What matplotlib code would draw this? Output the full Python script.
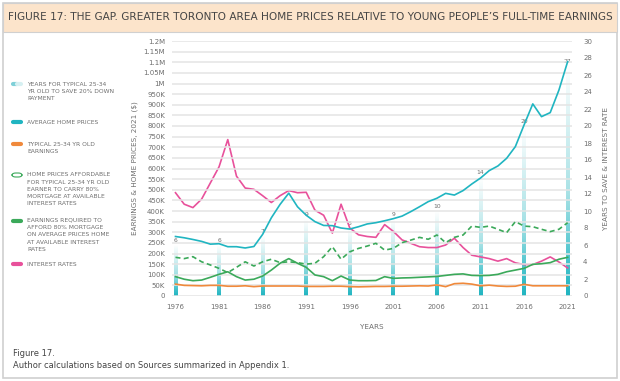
import numpy as np
import matplotlib
matplotlib.use("Agg")
import matplotlib.pyplot as plt
from matplotlib.colors import LinearSegmentedColormap
from matplotlib.lines import Line2D
from matplotlib.patches import FancyBboxPatch, Rectangle

years = list(range(1976, 2022))

# average home prices, $K (2021 dollars)
avg_price_k = [280, 274, 266, 257, 244, 246, 232, 232, 226, 233,
               290, 368, 431, 484, 420, 380, 350, 332, 331, 320,
               315, 326, 339, 345, 354, 364, 376, 397, 420, 444,
               460, 483, 475, 496, 527, 555, 590, 612, 648, 703,
               805, 904, 844, 863, 969, 1103]
# typical 25-34 full-time earnings, $K
earnings_k = [56, 50, 49, 48, 50, 50, 46, 46, 48, 44,
              47, 47, 47, 47, 47, 45, 45, 45, 46, 46,
              44, 43, 44, 45, 45, 46, 46, 47, 48, 47,
              52, 44, 58, 60, 56, 48, 51, 47, 45, 46,
              55, 48, 48, 48, 48, 48]
# home prices affordable for a typical earner, $K
affordable_k = [182, 176, 185, 161, 146, 130, 110, 135, 161, 141,
                161, 173, 157, 161, 157, 150, 154, 185, 232, 173,
                208, 224, 235, 248, 216, 224, 251, 263, 276, 267,
                287, 251, 276, 287, 329, 323, 329, 314, 298, 350,
                329, 326, 314, 303, 314, 345]
# earnings required for 80% mortgage on average home, $K
required_k = [91, 79, 72, 75, 88, 102, 114, 91, 75, 79,
              94, 122, 154, 176, 154, 135, 99, 91, 72, 94,
              75, 72, 72, 73, 91, 83, 85, 86, 88, 90,
              92, 97, 102, 104, 97, 96, 97, 102, 114, 122,
              130, 149, 152, 157, 173, 182]
# interest rates, %
interest = [12.15, 10.8, 10.4, 11.4, 13.3, 15.2, 18.4, 14.1, 12.7, 12.55,
            11.8, 11.0, 11.8, 12.4, 12.15, 12.2, 10.1, 9.5, 7.4, 10.8,
            8.0, 7.2, 7.0, 6.9, 8.4, 7.6, 6.6, 6.2, 5.8, 5.7,
            5.7, 6.0, 6.8, 5.7, 4.8, 4.6, 4.4, 4.1, 4.4, 3.9,
            3.7, 3.7, 4.1, 4.6, 4.0, 3.3]
# years to save 20% down payment
save_years = [1976, 1981, 1986, 1991, 1996, 2001, 2006, 2011, 2016, 2021]
save_values = [6, 6, 7, 9, 8, 9, 10, 14, 20, 27]

left_ticks = list(range(0, 1200001, 50000))
left_labels = ["0"] + [f"{v // 1000}K" for v in left_ticks[1:20]] + ["1M", "1.05M", "1.1M", "1.15M", "1.2M"]
right_ticks = list(range(0, 31, 2))

TEAL = "#20B5C1"
ORANGE = "#F0893B"
GREEN = "#3BA95A"
PINK = "#E8519B"
GRAY = "#6E6E6E"

fig = plt.figure(figsize=(6.2, 3.81), dpi=100)
fig.patch.set_facecolor("white")

# frame and title band
fig.add_artist(Rectangle((0.005, 0.008), 0.99, 0.984, transform=fig.transFigure,
                         fill=False, edgecolor="#D0D0D0", linewidth=1.2))
fig.add_artist(Rectangle((0.005, 0.917), 0.99, 0.075, transform=fig.transFigure,
                         facecolor="#FCE4CB", edgecolor="#D0D0D0", linewidth=0.8))
fig.text(0.5, 0.955, "FIGURE 17: THE GAP. GREATER TORONTO AREA HOME PRICES RELATIVE TO YOUNG PEOPLE\u2019S FULL-TIME EARNINGS",
         ha="center", va="center", fontsize=7.55, color="#454545")

ax = fig.add_axes([172 / 620, 1 - 296 / 381, 400 / 620, 255 / 381])
ax2 = ax.twinx()
ax.set_zorder(ax2.get_zorder() + 1)
ax.patch.set_visible(False)

ax.set_xlim(1975.6, 2021.5)
ax.set_ylim(0, 1200000)
ax2.set_ylim(0, 30)

# gradient bars for years to save
cmap = LinearSegmentedColormap.from_list("fade", [(0, TEAL), (0.12, "#3FC0CA"), (0.45, "#A9E2E6"), (1, "#FFFFFF")])
grad = np.linspace(0, 1, 256).reshape(-1, 1)
bw = 0.44
for yr, v in zip(save_years, save_values):
    ax2.imshow(grad, extent=[yr - bw / 2, yr + bw / 2, 0, v], origin="lower",
               aspect="auto", cmap=cmap, zorder=1)
    ax2.text(yr, v + 0.25, str(v), ha="center", va="bottom", fontsize=4.3, color=GRAY, zorder=2)
ax2.set_xlim(1975.6, 2021.5)
ax2.set_ylim(0, 30)

ax2.plot(years, interest, color=PINK, linewidth=1.2, zorder=3)

k = 1000
ax.plot(years, [v * k for v in avg_price_k], color=TEAL, linewidth=1.2)
ax.plot(years, [v * k for v in earnings_k], color=ORANGE, linewidth=1.2)
ax.plot(years, [v * k for v in affordable_k], color=GREEN, linewidth=1.2, linestyle=(0, (3, 2)))
ax.plot(years, [v * k for v in required_k], color=GREEN, linewidth=1.2)

for a in (ax, ax2):
    for s in a.spines.values():
        s.set_visible(False)
    a.tick_params(length=0, labelsize=5, labelcolor=GRAY)

ax.set_yticks(left_ticks)
ax.set_yticklabels(left_labels)
ax.grid(axis="y", color="#E4E4E4", linewidth=1.1)
ax.set_axisbelow(True)
ax.set_xticks(save_years)
ax.set_xticklabels([str(y) for y in save_years])
ax.tick_params(axis="x", pad=6)
ax.tick_params(axis="y", pad=5)
ax2.set_yticks(right_ticks)
ax2.tick_params(axis="y", pad=8)

ax.set_xlabel("YEARS", fontsize=5.2, color=GRAY, labelpad=10)
ax.set_ylabel("EARNINGS & HOME PRICES, 2021 ($)", fontsize=5.2, color=GRAY, labelpad=4)
ax2.set_ylabel("YEARS TO SAVE & INTEREST RATE", fontsize=5.2, color=GRAY, labelpad=8)

# legend, drawn by hand at left side
entries = [
    ("YEARS FOR TYPICAL 25-34\nYR OLD TO SAVE 20% DOWN\nPAYMENT", 84, "fade"),
    ("AVERAGE HOME PRICES", 122, TEAL),
    ("TYPICAL 25-34 YR OLD\nEARNINGS", 144.5, ORANGE),
    ("HOME PRICES AFFORDABLE\nFOR TYPICAL 25-34 YR OLD\nEARNER TO CARRY 80%\nMORTGAGE AT AVAILABLE\nINTEREST RATES", 175, "open"),
    ("EARNINGS REQUIRED TO\nAFFORD 80% MORTGAGE\nON AVERAGE PRICES HOME\nAT AVAILABLE INTEREST\nRATES", 220.5, GREEN),
    ("INTEREST RATES", 264, PINK),
]
for label, ypx, style in entries:
    yf = 1 - ypx / 381
    x0, x1 = 13 / 620, 21 / 620
    if style == "fade":
        fig.add_artist(Line2D([x0, (x0 + x1) / 2], [yf, yf], transform=fig.transFigure,
                              color="#7FD0D8", linewidth=3, solid_capstyle="round"))
        fig.add_artist(Line2D([(x0 + x1) / 2, x1], [yf, yf], transform=fig.transFigure,
                              color="#D6F0F2", linewidth=3, solid_capstyle="round"))
    elif style == "open":
        fig.add_artist(FancyBboxPatch((x0 - 1 / 620, yf - 2 / 381), 10 / 620, 4 / 381,
                                      boxstyle="round,pad=0,rounding_size=0.006",
                                      transform=fig.transFigure, facecolor="white",
                                      edgecolor=GREEN, linewidth=0.8))
    else:
        fig.add_artist(Line2D([x0, x1], [yf, yf], transform=fig.transFigure,
                              color=style, linewidth=3, solid_capstyle="round"))
    fig.text(27 / 620, yf + 2.5 / 381, label, ha="left", va="top", fontsize=4.3, color=GRAY,
             linespacing=1.55, transform=fig.transFigure)

fig.text(13 / 620, 1 - 353 / 381, "Figure 17.", fontsize=6, color="#444444", va="center")
fig.text(13 / 620, 1 - 365 / 381, "Author calculations based on Sources summarized in Appendix 1.",
         fontsize=6, color="#444444", va="center")

fig.savefig("out.png", dpi=100)
